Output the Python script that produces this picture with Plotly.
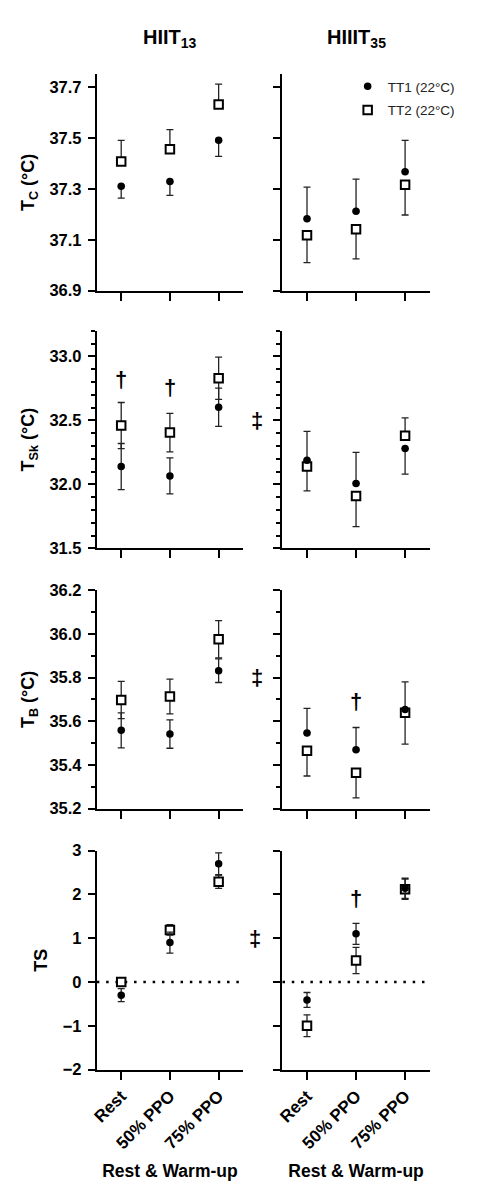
import plotly.graph_objects as go
from plotly.subplots import make_subplots

categories = ["Rest", "50% PPO", "75% PPO"]
protocols = ["HIIT<sub>13</sub>", "HIIIT<sub>35</sub>"]
series_names = ["TT1 (22°C)", "TT2 (22°C)"]
y_titles = ["T<sub>C</sub> (°C)", "T<sub>Sk</sub> (°C)", "T<sub>B</sub> (°C)", "TS"]
x_title = "Rest & Warm-up"

# ---- Core temperature (Tc) ----
tc13_tt1 = [37.31, 37.328, 37.49]
tc13_tt1_up = [0, 0, 0]
tc13_tt1_dn = [0.047, 0.054, 0.063]
tc13_tt2 = [37.407, 37.455, 37.63]
tc13_tt2_up = [0.083, 0.077, 0.08]
tc13_tt2_dn = [0, 0, 0]

tc35_tt1 = [37.182, 37.212, 37.367]
tc35_tt1_up = [0.124, 0.126, 0.123]
tc35_tt1_dn = [0, 0, 0]
tc35_tt2 = [37.118, 37.141, 37.316]
tc35_tt2_up = [0, 0, 0]
tc35_tt2_dn = [0.108, 0.116, 0.119]

# ---- Skin temperature (Tsk) ----
tsk13_tt1 = [32.14, 32.067, 32.603]
tsk13_tt1_up = [0.18, 0.14, 0.15]
tsk13_tt1_dn = [0.18, 0.14, 0.15]
tsk13_tt2 = [32.46, 32.405, 32.83]
tsk13_tt2_up = [0.18, 0.15, 0.165]
tsk13_tt2_dn = [0.18, 0.15, 0.165]

tsk35_tt1 = [32.19, 32.008, 32.28]
tsk35_tt1_up = [0.225, 0.242, 0]
tsk35_tt1_dn = [0, 0, 0.2]
tsk35_tt2 = [32.14, 31.91, 32.38]
tsk35_tt2_up = [0, 0, 0.14]
tsk35_tt2_dn = [0.19, 0.24, 0]

# ---- Body temperature (Tb) ----
tb13_tt1 = [35.558, 35.541, 35.831]
tb13_tt1_up = [0.08, 0.065, 0.054]
tb13_tt1_dn = [0.08, 0.065, 0.054]
tb13_tt2 = [35.697, 35.713, 35.975]
tb13_tt2_up = [0.085, 0.08, 0.085]
tb13_tt2_dn = [0.085, 0.08, 0.085]

tb35_tt1 = [35.546, 35.469, 35.654]
tb35_tt1_up = [0.113, 0.102, 0.126]
tb35_tt1_dn = [0, 0, 0]
tb35_tt2 = [35.465, 35.364, 35.639]
tb35_tt2_up = [0, 0, 0]
tb35_tt2_dn = [0.116, 0.115, 0.144]

# ---- Thermal sensation (TS) ----
ts13_tt1 = [-0.30, 0.90, 2.70]
ts13_tt1_up = [0.15, 0.24, 0.25]
ts13_tt1_dn = [0.15, 0.24, 0.25]
ts13_tt2 = [0.0, 1.19, 2.29]
ts13_tt2_up = [0, 0.12, 0.15]
ts13_tt2_dn = [0, 0.12, 0.15]

ts35_tt1 = [-0.41, 1.10, 2.14]
ts35_tt1_up = [0.17, 0.24, 0.23]
ts35_tt1_dn = [0.17, 0.24, 0.23]
ts35_tt2 = [-1.00, 0.49, 2.12]
ts35_tt2_up = [0.25, 0.30, 0.23]
ts35_tt2_dn = [0.25, 0.30, 0.23]

ts_reference_line = 0

# y-axis ranges / ticks per row
y_ranges = [[36.9, 37.75], [31.5, 33.2], [35.2, 36.2], [-2, 3]]
y_tick0 = [36.9, 31.5, 35.2, -2]
y_dtick = [0.2, 0.5, 0.2, 1]
y_minor = [None, 0.1, 0.1, None]
y_fmt = [".1f", ".1f", ".1f", "d"]

# significance markers: (row, col, category index or None, x domain pos, y, symbol)
sig_marks = [
    (2, 1, 0, None, 32.82, "†"),
    (2, 1, 1, None, 32.76, "†"),
    (2, 2, None, -0.17, 32.5, "‡"),
    (3, 2, None, -0.17, 35.8, "‡"),
    (3, 2, 1, None, 35.69, "†"),
    (4, 2, None, -0.19, 1.0, "‡"),
    (4, 2, 1, None, 1.9, "†"),
]

panels = {
    (1, 1): (tc13_tt1, tc13_tt1_up, tc13_tt1_dn, tc13_tt2, tc13_tt2_up, tc13_tt2_dn),
    (1, 2): (tc35_tt1, tc35_tt1_up, tc35_tt1_dn, tc35_tt2, tc35_tt2_up, tc35_tt2_dn),
    (2, 1): (tsk13_tt1, tsk13_tt1_up, tsk13_tt1_dn, tsk13_tt2, tsk13_tt2_up, tsk13_tt2_dn),
    (2, 2): (tsk35_tt1, tsk35_tt1_up, tsk35_tt1_dn, tsk35_tt2, tsk35_tt2_up, tsk35_tt2_dn),
    (3, 1): (tb13_tt1, tb13_tt1_up, tb13_tt1_dn, tb13_tt2, tb13_tt2_up, tb13_tt2_dn),
    (3, 2): (tb35_tt1, tb35_tt1_up, tb35_tt1_dn, tb35_tt2, tb35_tt2_up, tb35_tt2_dn),
    (4, 1): (ts13_tt1, ts13_tt1_up, ts13_tt1_dn, ts13_tt2, ts13_tt2_up, ts13_tt2_dn),
    (4, 2): (ts35_tt1, ts35_tt1_up, ts35_tt1_dn, ts35_tt2, ts35_tt2_up, ts35_tt2_dn),
}

FONT = "Liberation Sans, Arial, sans-serif"
W, H = 478, 1200

fig = make_subplots(rows=4, cols=2)

x_px = [(92, 240), (280, 429)]
y_px = [(66, 286), (326.7, 547.7), (590, 811.7), (854.5, 1076.7)]

def ax_index(r, c):
    return (r - 1) * 2 + c

def err(up, dn):
    return dict(type="data", symmetric=False, array=up, arrayminus=dn,
                color="#222222", thickness=1.3, width=3.5)

for (r, c), (m1, u1, d1, m2, u2, d2) in panels.items():
    first = (r == 1 and c == 1)
    # TT2 (open squares) drawn first, TT1 dots on top
    fig.add_trace(go.Scatter(
        x=categories, y=m2, mode="markers", name=series_names[1],
        legendgroup="tt2", legendrank=2, showlegend=first,
        marker=dict(symbol="square", size=8.5, color="white",
                    line=dict(color="black", width=2)),
        error_y=err(u2, d2)), row=r, col=c)
    fig.add_trace(go.Scatter(
        x=categories, y=m1, mode="markers", name=series_names[0],
        legendgroup="tt1", legendrank=1, showlegend=first,
        marker=dict(symbol="circle", size=7.5, color="black"),
        error_y=err(u1, d1)), row=r, col=c)

for r in range(1, 5):
    for c in range(1, 3):
        i = ax_index(r, c)
        xk = "xaxis" if i == 1 else f"xaxis{i}"
        yk = "yaxis" if i == 1 else f"yaxis{i}"
        x0, x1 = x_px[c - 1]
        y0, y1 = y_px[r - 1]
        fig.layout[xk].update(
            domain=[x0 / W, x1 / W],
            type="category", categoryorder="array", categoryarray=categories,
            range=[-0.5, 2.5], showline=True, linecolor="black", linewidth=2,
            ticks="outside", ticklen=8, tickwidth=2, tickcolor="black",
            showgrid=False, zeroline=False,
            showticklabels=(r == 4), tickangle=-45,
            tickfont=dict(family=FONT, size=17, color="black", weight="bold"),
        )
        if r == 4:
            fig.layout[xk].update(title=dict(
                text=x_title, standoff=13,
                font=dict(family=FONT, size=17.5, color="black", weight="bold")))
        yd = dict(
            domain=[1 - y1 / H, 1 - y0 / H], range=y_ranges[r - 1],
            tick0=y_tick0[r - 1], dtick=y_dtick[r - 1], tickformat=y_fmt[r - 1],
            showline=True, linecolor="black", linewidth=2,
            ticks="outside", ticklen=7, tickwidth=2, tickcolor="black",
            ticklabelstandoff=3,
            showgrid=False, zeroline=False,
            showticklabels=(c == 1),
            tickfont=dict(family=FONT, size=16.5, color="black", weight="bold"),
        )
        if y_minor[r - 1]:
            yd["minor"] = dict(dtick=y_minor[r - 1], ticks="outside", ticklen=4,
                               tickwidth=2, tickcolor="black", showgrid=False)
        if c == 1:
            yd["title"] = dict(text=y_titles[r - 1], standoff=10,
                               font=dict(family=FONT, size=18, color="black", weight="bold"))
        fig.layout[yk].update(**yd)

# dotted reference line at TS = 0
for c in (1, 2):
    i = ax_index(4, c)
    fig.add_shape(type="line", xref=f"x{i} domain", x0=0, x1=1,
                  yref=f"y{i}", y0=ts_reference_line, y1=ts_reference_line,
                  line=dict(color="black", width=2.5, dash="2.5px,6.8px"))

# column titles
for c in (1, 2):
    i = ax_index(1, c)
    xr = "x domain" if i == 1 else f"x{i} domain"
    fig.add_annotation(text="<b>" + protocols[c - 1] + "</b>", xref=xr, x=0.5,
                       yref="paper", y=1 - 30 / H, showarrow=False,
                       xanchor="center", yanchor="middle",
                       font=dict(family=FONT, size=20, color="black"))

# significance symbols
for r, c, cat, xd, yv, sym in sig_marks:
    i = ax_index(r, c)
    if cat is not None:
        xr, xv = f"x{i}", categories[cat]
    else:
        xr, xv = f"x{i} domain", xd
    fig.add_annotation(text="<b>" + sym + "</b>", xref=xr, x=xv,
                       yref=f"y{i}", y=yv, showarrow=False,
                       xanchor="center", yanchor="middle",
                       font=dict(family=FONT, size=22, color="black"))

fig.update_layout(
    width=W, height=H, margin=dict(l=0, r=0, t=0, b=0),
    paper_bgcolor="white", plot_bgcolor="white",
    font=dict(family=FONT, color="black"),
    showlegend=True,
    legend=dict(x=346 / W, y=1 - 63 / H, xanchor="left", yanchor="top",
                bgcolor="rgba(0,0,0,0)", tracegroupgap=3,
                font=dict(family=FONT, size=13.5, color="#222222")),
)

fig.write_html("out.html", config={"displayModeBar": False},
               post_script="document.body.style.margin='0';document.body.style.overflow='hidden';")
